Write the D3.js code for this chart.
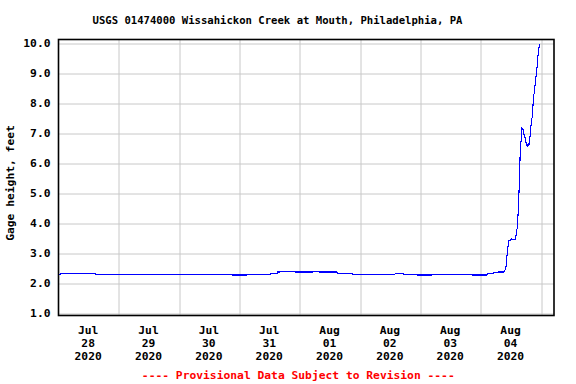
<!DOCTYPE html>
<html>
<head>
<meta charset="utf-8">
<script src="https://cdn.jsdelivr.net/npm/d3@7"></script>
<style>
  body { margin: 0; background: #fff; }
  text { font-family: "DejaVu Sans Mono", "Liberation Mono", monospace; font-weight: bold; }
</style>
</head>
<body>
<div id="chart"></div>
<script>
// gage height readings (UTC-parsed local clock times), feet
const times = [
  "2020-07-28 00:00", "2020-07-28 00:45", "2020-07-28 01:00", "2020-07-28 14:30", "2020-07-28 14:45",
  "2020-07-30 18:00", "2020-07-30 18:15", "2020-07-30 18:30", "2020-07-30 20:45", "2020-07-30 21:00",
  "2020-07-31 03:00", "2020-07-31 03:15", "2020-07-31 12:15", "2020-07-31 12:30", "2020-07-31 15:00",
  "2020-07-31 15:15", "2020-07-31 16:00", "2020-07-31 16:15", "2020-07-31 22:00", "2020-07-31 22:15",
  "2020-08-01 05:15", "2020-08-01 05:30", "2020-08-01 07:30", "2020-08-01 07:45", "2020-08-01 14:45",
  "2020-08-01 15:00", "2020-08-01 20:45", "2020-08-01 21:00", "2020-08-02 13:45", "2020-08-02 14:00",
  "2020-08-02 17:00", "2020-08-02 17:15", "2020-08-02 22:30", "2020-08-02 22:45", "2020-08-03 04:30",
  "2020-08-03 04:45", "2020-08-03 12:45", "2020-08-03 13:00", "2020-08-03 13:30", "2020-08-03 20:15",
  "2020-08-03 20:30", "2020-08-04 02:15", "2020-08-04 02:30", "2020-08-04 04:45", "2020-08-04 06:45",
  "2020-08-04 09:00", "2020-08-04 09:30", "2020-08-04 09:55", "2020-08-04 10:15", "2020-08-04 10:40",
  "2020-08-04 11:05", "2020-08-04 11:50", "2020-08-04 12:10", "2020-08-04 12:50", "2020-08-04 13:35",
  "2020-08-04 14:00", "2020-08-04 14:25", "2020-08-04 14:50", "2020-08-04 15:10", "2020-08-04 15:40",
  "2020-08-04 16:00", "2020-08-04 16:15", "2020-08-04 16:50", "2020-08-04 17:10", "2020-08-04 17:35",
  "2020-08-04 17:55", "2020-08-04 18:25", "2020-08-04 18:50", "2020-08-04 19:05", "2020-08-04 19:30",
  "2020-08-04 19:45", "2020-08-04 20:10", "2020-08-04 20:30", "2020-08-04 20:55", "2020-08-04 21:20",
  "2020-08-04 21:45", "2020-08-04 22:10", "2020-08-04 22:30", "2020-08-04 22:55", "2020-08-04 23:20"
];
const heights = [
  2.31, 2.31, 2.34, 2.34, 2.31,
  2.31, 2.29, 2.31, 2.31, 2.28,
  2.28, 2.31, 2.31, 2.34, 2.34,
  2.38, 2.38, 2.41, 2.41, 2.38,
  2.38, 2.41, 2.41, 2.38, 2.38,
  2.34, 2.34, 2.31, 2.31, 2.34,
  2.34, 2.31, 2.31, 2.28, 2.28,
  2.31, 2.31, 2.28, 2.31, 2.31,
  2.28, 2.28, 2.31, 2.34, 2.38,
  2.38, 2.43, 2.48, 2.83, 3.12,
  3.43, 3.43, 3.49, 3.45, 3.45,
  3.60, 3.84, 4.36, 5.06, 6.43,
  6.75, 7.17, 7.12, 6.95, 6.85,
  6.70, 6.56, 6.65, 6.58, 6.85,
  7.12, 7.45, 7.58, 8.22, 8.41,
  8.80, 9.02, 9.39, 9.76, 9.98
];
const yTicks = [1, 2, 3, 4, 5, 6, 7, 8, 9, 10];
const xStart = "2020-07-28 00:00";
const xEnd = "2020-08-05 05:05";
const title = "USGS 01474000 Wissahickon Creek at Mouth, Philadelphia, PA";
const yLabel = "Gage height, feet";
const note = "---- Provisional Data Subject to Revision ----";

const parse = d3.utcParse("%Y-%m-%d %H:%M");
const data = times.map((t, i) => ({t: parse(t), v: heights[i]}));

const W = 576, H = 384;
const margin = {t: 39.5, r: 22, b: 68.5, l: 58.5};
const w = W - margin.l - margin.r;
const h = H - margin.t - margin.b;

const svg = d3.select('#chart').append('svg')
  .attr('width', W).attr('height', H);

const x = d3.scaleUtc().domain([parse(xStart), parse(xEnd)]).range([0, w]);
const y = d3.scaleLinear().domain([0.93, 10.13]).range([h, 0]);

const plot = svg.append('g').attr('transform', `translate(${margin.l}, ${margin.t})`);

// grid
const days = d3.utcDay.range(parse(xStart), parse(xEnd));
plot.append('g').selectAll('line.v').data(days.slice(1)).join('line')
  .attr('x1', d => Math.round(x(d)) + 0.5).attr('x2', d => Math.round(x(d)) + 0.5)
  .attr('y1', 0).attr('y2', h)
  .attr('stroke', '#c8c8c8').attr('stroke-width', 1);
plot.append('g').selectAll('line.h').data(yTicks).join('line')
  .attr('x1', 0).attr('x2', w)
  .attr('y1', d => Math.round(y(d)) + 0.5).attr('y2', d => Math.round(y(d)) + 0.5)
  .attr('stroke', '#c8c8c8').attr('stroke-width', 1);

// data line
plot.append('path').datum(data)
  .attr('fill', 'none').attr('stroke', '#0000ff').attr('stroke-width', 1.1)
  .attr('shape-rendering', 'crispEdges')
  .attr('d', d3.line().x(d => x(d.t)).y(d => y(d.v)));

// frame
plot.append('rect').attr('x', 0).attr('y', 0).attr('width', w).attr('height', h)
  .attr('fill', 'none').attr('stroke', '#000').attr('stroke-width', 1.6);

// y tick labels
plot.append('g').selectAll('text').data(yTicks).join('text')
  .attr('x', -8).attr('y', d => y(d)).attr('dy', '0.35em')
  .attr('text-anchor', 'end').attr('font-size', 11.3)
  .text(d3.format('.1f'));

// x labels at noon of each day
const noon = days.map(d => d3.utcHour.offset(d, 12)).filter(d => d < parse(xEnd));
const xl = plot.append('g').selectAll('text').data(noon).join('text')
  .attr('text-anchor', 'middle').attr('font-size', 11.3)
  .attr('transform', d => `translate(${x(d) - 0.5}, ${h + 18.5})`);
[d3.utcFormat('%b'), d3.utcFormat('%d'), d3.utcFormat('%Y')].forEach((f, i) => {
  xl.append('tspan').attr('x', 0).attr('y', i * 13).text(d => f(d));
});

svg.append('text').attr('x', 277.5).attr('y', 24)
  .attr('text-anchor', 'middle').attr('font-size', 10.6).text(title);

svg.append('text').attr('transform', 'translate(14, 183) rotate(-90)')
  .attr('text-anchor', 'middle').attr('font-size', 11.3).text(yLabel);

svg.append('text').attr('x', 298.3).attr('y', 379)
  .attr('text-anchor', 'middle').attr('font-size', 11.3).attr('fill', '#ff0000').text(note);
</script>
</body>
</html>
